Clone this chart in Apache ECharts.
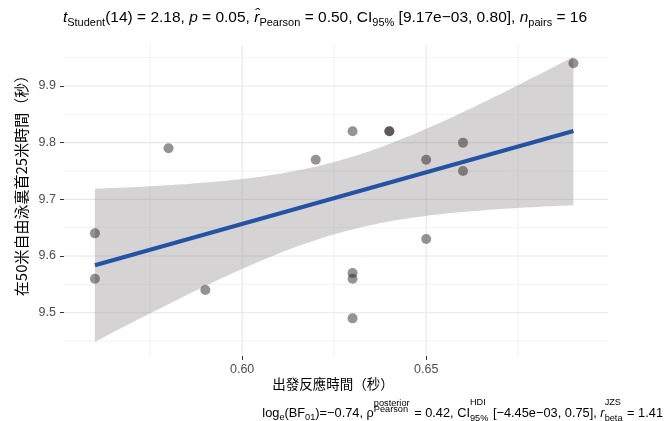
<!DOCTYPE html>
<html>
<head>
<meta charset="utf-8">
<script src="https://cdn.jsdelivr.net/npm/echarts@6/dist/echarts.min.js"></script>
<style>
  html, body { margin: 0; padding: 0; background: #ffffff; }
  #chart { width: 665px; height: 421px; }
</style>
</head>
<body>
<div id="chart"></div>
<script>
// Start reaction time (s) for each swimmer
const reactionTime = [0.56, 0.56, 0.58, 0.59, 0.62, 0.63, 0.63, 0.63, 0.63, 0.64, 0.64, 0.65, 0.65, 0.66, 0.66, 0.69];
// Time over the first 25 m of the 50 m freestyle (s)
const split25m = [9.64, 9.56, 9.79, 9.54, 9.77, 9.82, 9.57, 9.56, 9.49, 9.82, 9.82, 9.77, 9.63, 9.80, 9.75, 9.94];

const xTickLabels = [0.60, 0.65];
const yTickLabels = [9.5, 9.6, 9.7, 9.8, 9.9];
const xMinorBreaks = [0.575, 0.625, 0.675];
const yMinorBreaks = [9.45, 9.55, 9.65, 9.75, 9.85, 9.95];
const xLimits = [0.5516, 0.6994];
const yLimits = [9.4236, 9.9723];

const LATIN = '"Liberation Sans", Arial, sans-serif';
const CJK = '"Noto Sans CJK TC", "Noto Sans CJK SC", sans-serif';

// Ordinary least squares fit with a 95% confidence band for the mean
function linearFit(xs, ys) {
  const n = xs.length;
  const xbar = xs.reduce((a, b) => a + b, 0) / n;
  const ybar = ys.reduce((a, b) => a + b, 0) / n;
  let sxx = 0, sxy = 0;
  for (let i = 0; i < n; i++) {
    sxx += (xs[i] - xbar) ** 2;
    sxy += (xs[i] - xbar) * (ys[i] - ybar);
  }
  const slope = sxy / sxx;
  const intercept = ybar - slope * xbar;
  let sse = 0;
  for (let i = 0; i < n; i++) sse += (ys[i] - intercept - slope * xs[i]) ** 2;
  const s = Math.sqrt(sse / (n - 2));
  return { n, xbar, sxx, slope, intercept, s };
}
const fit = linearFit(reactionTime, split25m);
const tCrit = 2.144787; // t quantile 0.975, df = 14
const xLo = Math.min(...reactionTime), xHi = Math.max(...reactionTime);
const bandRows = [];
for (let i = 0; i <= 80; i++) {
  const x = xLo + (xHi - xLo) * i / 80;
  const yhat = fit.intercept + fit.slope * x;
  const se = fit.s * Math.sqrt(1 / fit.n + (x - fit.xbar) ** 2 / fit.sxx);
  bandRows.push([x, yhat - tCrit * se, yhat + tCrit * se]);
}
const fitEnds = [xLo, xHi].map(x => [x, fit.intercept + fit.slope * x]);

// Grid lines: [value, vertical?, major?]
const gridRows = [];
xTickLabels.forEach(v => gridRows.push([v, 1, 1]));
xMinorBreaks.forEach(v => gridRows.push([v, 1, 0]));
yTickLabels.forEach(v => gridRows.push([v, 0, 1]));
yMinorBreaks.forEach(v => gridRows.push([v, 0, 0]));

// Small layout helper for text with sub/superscripts
const mctx = document.createElement('canvas').getContext('2d');
function fontStr(size, italic) { return (italic ? 'italic ' : '') + size + 'px ' + LATIN; }
function textWidth(t, size, italic) { mctx.font = fontStr(size, italic); return mctx.measureText(t).width; }

function mathLine(pieces, base, small, cy, anchorX, align, color) {
  const items = [];
  let w = 0;
  pieces.forEach(p => {
    if (p.ss) {
      const w1 = textWidth(p.ss[0], small, false);
      const w2 = textWidth(p.ss[1], small, false);
      items.push({ x: w, t: p.ss[0], size: small, dy: p.supDy ?? -10 });
      items.push({ x: w, t: p.ss[1], size: small, dy: p.subDy ?? 5 });
      w += Math.max(w1, w2) + 1;
    } else {
      const size = p.sub ? small : base;
      const dy = p.sub ? Math.round(base * 0.3) : 0;
      items.push({ x: w, t: p.t, size, dy, italic: !!p.i });
      w += textWidth(p.t, size, !!p.i);
    }
  });
  const x0 = align === 'right' ? anchorX - w : anchorX - w / 2;
  return items.map(it => ({
    type: 'text', silent: true, x: x0 + it.x, y: cy + it.dy,
    style: { text: it.t, font: fontStr(it.size, it.italic), fill: color, align: 'left', verticalAlign: 'middle' }
  }));
}

const titlePieces = [
  { t: 't', i: true }, { t: 'Student', sub: true }, { t: '(14) = 2.18, ' },
  { t: 'p', i: true }, { t: ' = 0.05, ' },
  { t: 'r\u0302', i: true }, { t: 'Pearson', sub: true }, { t: ' = 0.50, CI' },
  { t: '95%', sub: true }, { t: ' [9.17e\u221203, 0.80], ' },
  { t: 'n', i: true }, { t: 'pairs', sub: true }, { t: ' = 16' }
];
const captionPieces = [
  { t: 'log' }, { t: 'e', sub: true }, { t: '(BF' }, { t: '01', sub: true }, { t: ')=\u22120.74, \u03c1' },
  { ss: ['posterior', 'Pearson'], supDy: -10, subDy: -4 },
  { t: ' = 0.42, CI' }, { ss: ['HDI', '95%'], supDy: -11, subDy: 5 },
  { t: ' [\u22124.45e\u221203, 0.75], ' }, { t: 'r', i: true },
  { ss: ['JZS', 'beta'], supDy: -11, subDy: 5 }, { t: ' = 1.41' }
];

const graphics = []
  .concat(mathLine(titlePieces, 15.5, 11, 18, 325, 'center', '#000'))
  .concat(mathLine(captionPieces, 12.8, 9.2, 413, 663, 'right', '#000'))
  .concat([
    { type: 'text', silent: true, x: 333, y: 384,
      style: { text: '出發反應時間（秒）', font: '13.5px ' + CJK, fill: '#000', align: 'center', verticalAlign: 'middle' } },
    { type: 'text', silent: true, x: 21, y: 182, rotation: Math.PI / 2,
      style: { text: '在50米自由泳裏首25米時間（秒）', font: '15px ' + CJK, fill: '#000', align: 'center', verticalAlign: 'middle' } }
  ]);

const chart = echarts.init(document.getElementById('chart'), null, { renderer: 'canvas' });
chart.setOption({
  animation: false,
  backgroundColor: '#ffffff',
  grid: { left: 64, right: 57, top: 45, bottom: 65 },
  xAxis: {
    type: 'value', min: xLimits[0], max: xLimits[1],
    splitLine: { show: false }, axisLine: { show: false },
    axisTick: { show: true, customValues: xTickLabels, length: 4, lineStyle: { color: '#333', width: 1 } },
    axisLabel: { customValues: xTickLabels, formatter: v => v.toFixed(2), color: '#4d4d4d', fontSize: 12.5, fontFamily: LATIN, margin: 7 }
  },
  yAxis: {
    type: 'value', min: yLimits[0], max: yLimits[1],
    splitLine: { show: false }, axisLine: { show: false },
    axisTick: { show: true, customValues: yTickLabels, length: 4, lineStyle: { color: '#333', width: 1 } },
    axisLabel: { customValues: yTickLabels, formatter: v => v.toFixed(1), color: '#4d4d4d', fontSize: 12.5, fontFamily: LATIN, margin: 8 }
  },
  series: [
    {
      name: 'grid', type: 'custom', z: 0, silent: true, data: gridRows,
      renderItem: (params, api) => {
        const cs = params.coordSys;
        const v = api.value(0), vertical = api.value(1) === 1, major = api.value(2) === 1;
        const style = { stroke: major ? '#e6e6e6' : '#efefef', lineWidth: major ? 1.1 : 0.9 };
        if (vertical) {
          const px = api.coord([v, yLimits[0]])[0];
          return { type: 'line', shape: { x1: px, y1: cs.y, x2: px, y2: cs.y + cs.height }, style };
        }
        const py = api.coord([xLimits[0], v])[1];
        return { type: 'line', shape: { x1: cs.x, y1: py, x2: cs.x + cs.width, y2: py }, style };
      }
    },
    {
      name: 'band', type: 'custom', z: 1, silent: true, data: bandRows,
      encode: { x: 0, y: [1, 2] },
      renderItem: (params, api) => {
        if (params.dataIndex !== 0) return null;
        const upper = bandRows.map(d => api.coord([d[0], d[2]]));
        const lower = bandRows.map(d => api.coord([d[0], d[1]])).reverse();
        return { type: 'polygon', shape: { points: upper.concat(lower) }, style: { fill: 'rgba(150,146,146,0.4)' } };
      }
    },
    {
      name: 'fit', type: 'line', z: 2, silent: true, data: fitEnds, showSymbol: false,
      lineStyle: { color: '#2453a5', width: 4 }
    },
    {
      name: 'points', type: 'scatter', z: 3, silent: true,
      data: reactionTime.map((x, i) => [x, split25m[i]]),
      symbolSize: 10,
      itemStyle: { color: 'rgba(30,22,20,0.58)' }
    }
  ],
  graphic: graphics
});
</script>
</body>
</html>
